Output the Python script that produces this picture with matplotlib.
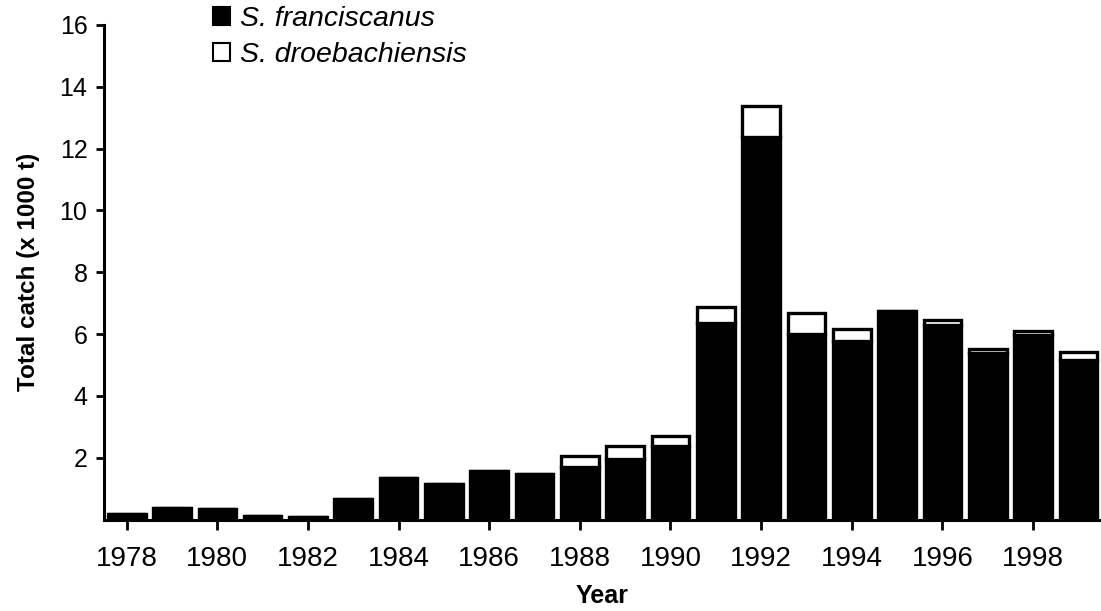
import matplotlib.pyplot as plt
from matplotlib.patches import Patch

plt.rcParams['font.family'] = ['Liberation Sans', 'DejaVu Sans']

# catch per year, thousands of tonnes
years = list(range(1978, 2000))
franciscanus = [0.18, 0.37, 0.35, 0.10, 0.07, 0.67, 1.34, 1.16, 1.56, 1.48, 1.69,
                1.96, 2.39, 6.36, 12.37, 6.00, 5.79, 6.75, 6.30, 5.38, 5.96, 5.17]
droebachiensis = [0, 0, 0, 0, 0, 0, 0, 0, 0, 0, 0.37,
                  0.43, 0.31, 0.51, 1.02, 0.69, 0.36, 0, 0.17, 0.15, 0.15, 0.26]
x_ticks = list(range(1978, 1999, 2))
y_ticks = [2, 4, 6, 8, 10, 12, 14, 16]

fig = plt.figure(figsize=(11.01, 6.11), dpi=100)
ax = fig.add_axes([0.0945, 0.1497, 0.9055, 0.8094])

ax.bar(years, franciscanus, width=0.83, color='black', edgecolor='black', linewidth=2.4)
ax.bar(years, droebachiensis, width=0.83, bottom=franciscanus, color='white',
       edgecolor='black', linewidth=2.4)

ax.set_xlim(1977.5, 1999.5)
ax.set_ylim(0, 16)
ax.set_xticks(x_ticks)
ax.set_yticks(y_ticks)
ax.tick_params(axis='x', labelsize=20, width=2, length=7, pad=12)
ax.tick_params(axis='y', labelsize=18, width=2, length=6, pad=6)

for side in ['top', 'right']:
    ax.spines[side].set_visible(False)
for side in ['left', 'bottom']:
    ax.spines[side].set_linewidth(2.2)

ax.set_xlabel('Year', fontsize=18, fontweight='bold', labelpad=9)
ax.set_ylabel('Total catch (x 1000 t)', fontsize=17.5, fontweight='bold', labelpad=14)

handles = [Patch(facecolor='black', edgecolor='black', linewidth=1.5),
           Patch(facecolor='white', edgecolor='black', linewidth=1.5)]
labels = ['S. franciscanus', 'S. droebachiensis']
leg = ax.legend(handles, labels, loc='upper left', bbox_to_anchor=(0.084, 1.09),
                frameon=False, handlelength=0.6, handleheight=0.6, handletextpad=0.35,
                labelspacing=0.35, prop={'size': 20.5, 'style': 'italic'})

fig.savefig('out.png', dpi=100)
